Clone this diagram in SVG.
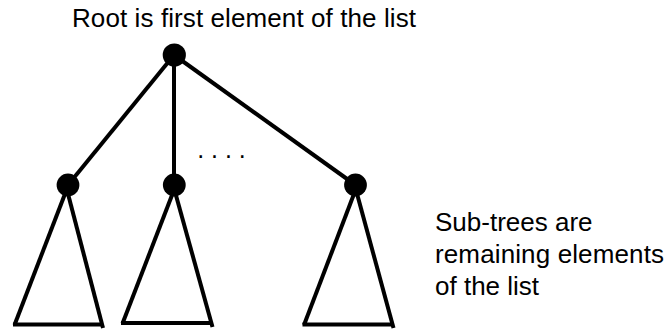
<svg xmlns="http://www.w3.org/2000/svg" width="668" height="331" viewBox="0 0 668 331">
<style>
text{font-family:"Liberation Sans",Arial,sans-serif;font-size:26px;fill:#000}
.e{stroke:#000;stroke-width:4;fill:none}
.t{stroke:#000;stroke-width:4;fill:none;stroke-linecap:butt}
.n{fill:#000}
</style>
<rect width="668" height="331" fill="#fff"/>
<g id="connectors">
<line class="e" x1="174" y1="55" x2="68" y2="185"/>
<line class="e" x1="174" y1="55" x2="174" y2="185" stroke-width="3.5"/>
<line class="e" x1="174" y1="55" x2="355.5" y2="185"/>
</g>
<g id="subtree1">
<line class="t" x1="66.5" y1="190" x2="14.5" y2="325"/>
<line class="t" x1="67" y1="190" x2="103" y2="328"/>
<line class="t" x1="13" y1="324.5" x2="101" y2="324.5"/>
</g>
<g id="subtree2">
<line class="t" x1="174" y1="190" x2="122.5" y2="323.5"/>
<line class="t" x1="174.5" y1="190" x2="212.5" y2="327"/>
<line class="t" x1="121" y1="323" x2="211" y2="323"/>
</g>
<g id="subtree3">
<line class="t" x1="355.5" y1="190" x2="304" y2="325"/>
<line class="t" x1="356" y1="190" x2="393.5" y2="328"/>
<line class="t" x1="302.5" y1="324.5" x2="392" y2="324.5"/>
</g>
<g id="root"><circle class="n" cx="174.3" cy="55" r="11.6"/></g>
<g id="child1"><circle class="n" cx="68" cy="185" r="11.4"/></g>
<g id="child2"><circle class="n" cx="174.3" cy="185" r="11.4"/></g>
<g id="child3"><circle class="n" cx="355.5" cy="185" r="11.4"/></g>
<g id="labels">
<text x="72" y="27.3" textLength="344">Root is first element of the list</text>
<text x="197.2" y="158" style="font-size:25px">. . . .</text>
<text x="435" y="230.7">Sub-trees are</text>
<text x="435" y="263" textLength="229">remaining elements</text>
<text x="435" y="295">of the list</text>
</g>
</svg>
